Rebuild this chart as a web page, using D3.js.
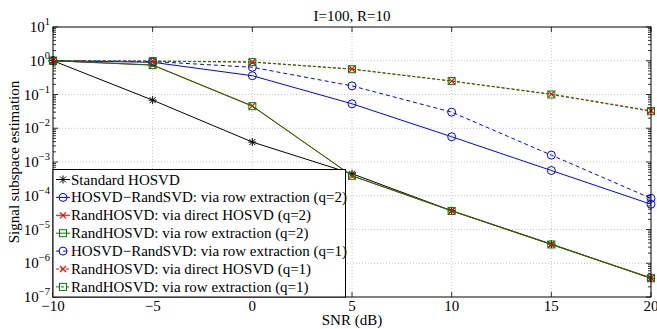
<!DOCTYPE html>
<html>
<head>
<meta charset="utf-8">
<script src="https://cdn.jsdelivr.net/npm/d3@7"></script>
<style>
  body { margin: 0; background: #fff; }
  svg { display: block; }
  text { font-family: "Liberation Serif", "DejaVu Serif", serif; fill: #000; }
</style>
</head>
<body>
<div id="chart"></div>
<script>
// values
var snr = [-10, -5, 0, 5, 10, 15, 20];
var stdHosvd  = [1, 0.068, 0.0039, 4.5e-4, 3.6e-5, 3.7e-6, 3.6e-7];
var rsvdQ2    = [1, 0.90, 0.36, 0.053, 0.0056, 5.6e-4, 5.6e-5];
var directQ2  = [1, 0.75, 0.046, 3.9e-4, 3.6e-5, 3.6e-6, 3.7e-7];
var rowQ2     = [1, 0.74, 0.045, 3.9e-4, 3.55e-5, 3.6e-6, 3.6e-7];
var rsvdQ1    = [1, 0.95, 0.64, 0.18, 0.030, 1.6e-3, 8.4e-5];
var directQ1  = [1, 0.98, 0.92, 0.57, 0.25, 0.103, 0.033];
var rowQ1     = [1, 0.97, 0.91, 0.56, 0.25, 0.100, 0.032];

var legendLabels = [
  "Standard HOSVD",
  "HOSVD\u2212RandSVD: via row extraction (q=2)",
  "RandHOSVD: via direct HOSVD (q=2)",
  "RandHOSVD: via row extraction (q=2)",
  "HOSVD\u2212RandSVD: via row extraction (q=1)",
  "RandHOSVD: via direct HOSVD (q=1)",
  "RandHOSVD: via row extraction (q=1)"
];
var xTicks = [-10, -5, 0, 5, 10, 15, 20];
var yExponents = [-7, -6, -5, -4, -3, -2, -1, 0, 1];

var series = [
  {vals: stdHosvd, color: "#000", dash: null, marker: "star"},
  {vals: rsvdQ2, color: "#0000ff", dash: null, marker: "circle"},
  {vals: directQ2, color: "#ff0000", dash: null, marker: "x"},
  {vals: rowQ2, color: "#008000", dash: null, marker: "square"},
  {vals: rsvdQ1, color: "#0000ff", dash: "4,3", marker: "circle"},
  {vals: directQ1, color: "#ff0000", dash: "3,2", marker: "x"},
  {vals: rowQ1, color: "#008000", dash: "3,2", marker: "square"}
];

var W = 657, H = 329;
var margin = {top: 27, right: 6, bottom: 32, left: 53};
var width = W - margin.left - margin.right,
    height = H - margin.top - margin.bottom;
var fs = "15px";

var svg = d3.select("#chart").append("svg")
  .attr("width", W).attr("height", H);
svg.append("rect").attr("width", W).attr("height", H).attr("fill", "#fff");

var g = svg.append("g")
  .attr("transform", "translate(" + margin.left + "," + margin.top + ")");

var x = d3.scaleLinear().domain([-10, 20]).range([0, width]);
var y = d3.scaleLog().domain([1e-7, 10]).range([height, 0]);

// grid
g.append("g").selectAll("line").data(xTicks.slice(1, -1)).join("line")
  .attr("x1", d => x(d)).attr("x2", d => x(d))
  .attr("y1", 0).attr("y2", height)
  .attr("stroke", "#c8c8c8").attr("stroke-dasharray", "1,2");
g.append("g").selectAll("line").data(yExponents.slice(1, -1)).join("line")
  .attr("x1", 0).attr("x2", width)
  .attr("y1", d => y(Math.pow(10, d))).attr("y2", d => y(Math.pow(10, d)))
  .attr("stroke", "#c8c8c8").attr("stroke-dasharray", "1,2");

// minor + major ticks on log axis, both sides, pointing inward
var minor = [];
yExponents.slice(0, -1).forEach(function(e) {
  for (var m = 2; m <= 9; m++) minor.push(m * Math.pow(10, e));
});
[0, width].forEach(function(xp, i) {
  var dir = i === 0 ? 1 : -1;
  g.append("g").selectAll("line").data(minor).join("line")
    .attr("x1", xp).attr("x2", xp + dir * 3)
    .attr("y1", d => y(d)).attr("y2", d => y(d))
    .attr("stroke", "#000").attr("stroke-width", 0.8);
  g.append("g").selectAll("line").data(yExponents).join("line")
    .attr("x1", xp).attr("x2", xp + dir * 5)
    .attr("y1", d => y(Math.pow(10, d))).attr("y2", d => y(Math.pow(10, d)))
    .attr("stroke", "#000").attr("stroke-width", 0.8);
});
[0, height].forEach(function(yp, i) {
  var dir = i === 0 ? 1 : -1;
  g.append("g").selectAll("line").data(xTicks).join("line")
    .attr("x1", d => x(d)).attr("x2", d => x(d))
    .attr("y1", yp).attr("y2", yp + dir * 5)
    .attr("stroke", "#000").attr("stroke-width", 0.8);
});

// y tick labels 10^k
var yl = g.append("g").selectAll("text").data(yExponents).join("text")
  .attr("x", -3).attr("y", d => y(Math.pow(10, d)) + 5)
  .attr("text-anchor", "end").style("font-size", fs);
yl.append("tspan").text("10");
yl.append("tspan").attr("dy", -7).style("font-size", "10.5px")
  .text(d => d < 0 ? "\u2212" + (-d) : d);

// x tick labels
g.append("g").selectAll("text").data(xTicks).join("text")
  .attr("x", d => x(d)).attr("y", height + 14)
  .attr("text-anchor", "middle").style("font-size", fs)
  .text(d => d < 0 ? "\u2212" + (-d) : d);

// lines and markers
var line = d3.line().x((d, i) => x(snr[i])).y(d => y(d));

function drawMarker(sel, type, color) {
  if (type === "circle") {
    sel.append("circle").attr("r", 4).attr("fill", "none").attr("stroke", color);
  } else if (type === "square") {
    sel.append("rect").attr("x", -3.5).attr("y", -3.5).attr("width", 7).attr("height", 7)
      .attr("fill", "none").attr("stroke", color);
  } else if (type === "x") {
    sel.append("path").attr("d", "M-3,-3L3,3M-3,3L3,-3").attr("stroke", color).attr("stroke-width", 1.2);
  } else if (type === "star") {
    sel.append("path").attr("d", "M-4,0L4,0M0,-4L0,4M-3,-3L3,3M-3,3L3,-3")
      .attr("stroke", color).attr("stroke-width", 1);
  }
}

series.forEach(function(s) {
  g.append("path").datum(s.vals)
    .attr("fill", "none").attr("stroke", s.color).attr("stroke-width", 1)
    .attr("stroke-dasharray", s.dash)
    .attr("d", line);
  g.append("g").selectAll("g").data(s.vals).join("g")
    .attr("transform", (d, i) => "translate(" + x(snr[i]) + "," + y(d) + ")")
    .each(function() { drawMarker(d3.select(this), s.marker, s.color); });
});

// frame
g.append("rect").attr("width", width).attr("height", height)
  .attr("fill", "none").attr("stroke", "#000").attr("stroke-width", 1);

// legend
var lg = g.append("g").attr("transform", "translate(0," + (height - 127.5) + ")");
lg.append("rect").attr("width", 292.5).attr("height", 127.5)
  .attr("fill", "#fff").attr("stroke", "#000").attr("stroke-width", 1);
var item = lg.selectAll("g.item").data(series).join("g").attr("class", "item")
  .attr("transform", (d, i) => "translate(0," + (10 + i * 17.9) + ")");
item.append("line").attr("x1", 3).attr("x2", 17)
  .attr("stroke", d => d.color).attr("stroke-dasharray", d => d.dash);
item.each(function(d) {
  var m = d3.select(this).append("g").attr("transform", "translate(10,0)");
  drawMarker(m, d.marker, d.color);
});
item.append("text").attr("x", 18).attr("y", 5).style("font-size", fs)
  .text((d, i) => legendLabels[i]);

// titles
svg.append("text").attr("x", margin.left + width / 2).attr("y", 20.5)
  .attr("text-anchor", "middle").style("font-size", fs).text("I=100, R=10");
svg.append("text").attr("x", margin.left + width / 2).attr("y", 325)
  .attr("text-anchor", "middle").style("font-size", fs).text("SNR (dB)");
svg.append("text").attr("transform", "translate(19," + (margin.top + height / 2) + ") rotate(-90)")
  .attr("text-anchor", "middle").style("font-size", fs).text("Signal subspace estimation");
</script>
</body>
</html>
